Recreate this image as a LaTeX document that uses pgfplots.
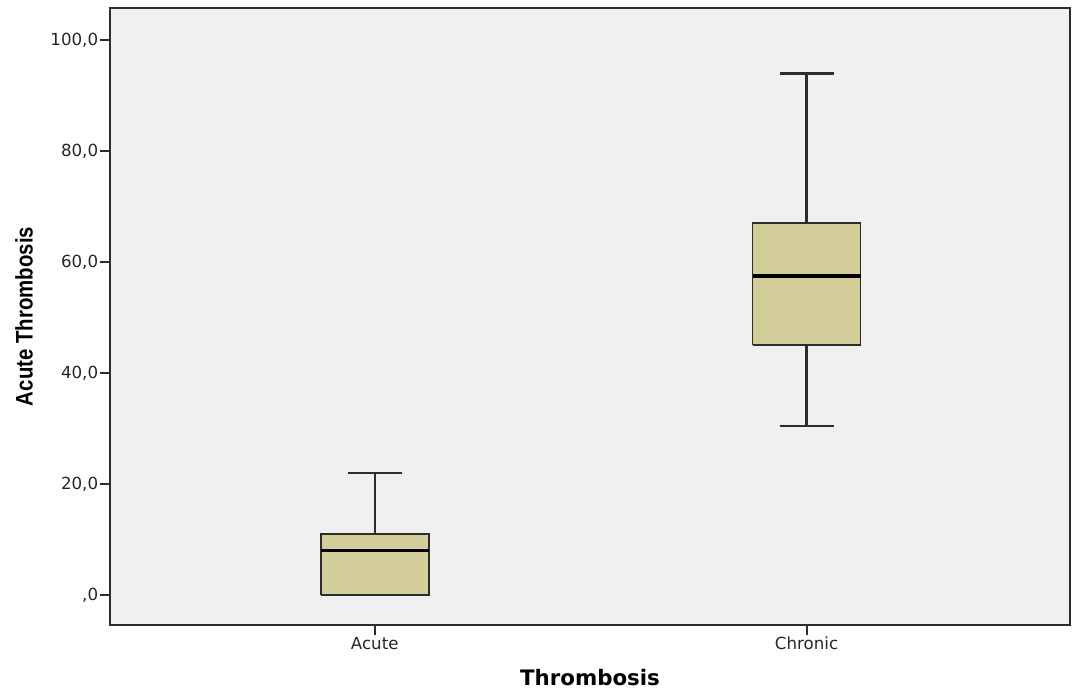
\documentclass[border=0pt]{standalone}
\usepackage{pgfplots}
\pgfplotsset{compat=1.18}
\usepackage{fontspec}
\setmainfont{DejaVu Sans}
\newfontfamily\labfont[FakeStretch=0.85]{Liberation Sans}
\definecolor{bgc}{RGB}{240,240,240}
\definecolor{boxc}{RGB}{211,206,153}
\definecolor{axc}{RGB}{45,45,45}
\begin{document}
\begin{tikzpicture}
\useasboundingbox (-82.5pt,-54pt) rectangle (721.5pt,468.75pt);
\begin{axis}[
  scale only axis,
  width=720pt, height=462.75pt,
  at={(0,0)}, anchor=south west,
  xmin=0.387, xmax=2.61,
  ymin=-5.41, ymax=105.77,
  axis background/.style={fill=bgc},
  axis line style={draw=axc, line width=1.5pt},
  tick pos=left, tick align=outside,
  major tick length=7.5pt,
  major tick style={draw=axc, line width=1.5pt},
  xtick={1,2}, xticklabels={Acute,Chronic},
  ytick={0,20,40,60,80,100},
  yticklabels={{,0},{20,0},{40,0},{60,0},{80,0},{100,0}},
  tick label style={font=\fontsize{12.5}{14}\selectfont, text=black!85},
  yticklabel style={inner sep=1.2pt},
  xticklabel style={inner sep=1.5pt},
  xlabel={Thrombosis},
  ylabel={Acute Thrombosis},
  xlabel style={at={(axis description cs:0.5,-0.0859)}, anchor=center,
    font=\fontsize{16}{18}\selectfont\bfseries},
  ylabel style={at={(axis description cs:-0.0896,0.5)}, anchor=center,
    font=\labfont\fontsize{18}{20}\selectfont\bfseries},
  whisk/.style={draw=axc, line width=1.8pt},
  bx/.style={draw=axc, line width=1.2pt, fill=boxc, line join=miter},
  med/.style={draw=black, line width=2.5pt},
]
% Acute
\addplot[whisk] coordinates {(1,11) (1,22)};
\addplot[whisk] coordinates {(0.9375,22) (1.0625,22)};
\addplot[whisk] coordinates {(0.9375,0) (1.0625,0)};
\addplot[bx] coordinates {(0.875,0) (1.125,0) (1.125,11) (0.875,11) (0.875,0)};
\addplot[med] coordinates {(0.875,8) (1.125,8)};
% Chronic
\addplot[whisk] coordinates {(2,67) (2,94)};
\addplot[whisk] coordinates {(1.9375,94) (2.0625,94)};
\addplot[whisk] coordinates {(2,45) (2,30.5)};
\addplot[whisk] coordinates {(1.9375,30.5) (2.0625,30.5)};
\addplot[bx] coordinates {(1.875,45) (2.125,45) (2.125,67) (1.875,67) (1.875,45)};
\addplot[med] coordinates {(1.875,57.5) (2.125,57.5)};
\end{axis}
\end{tikzpicture}
\end{document}
